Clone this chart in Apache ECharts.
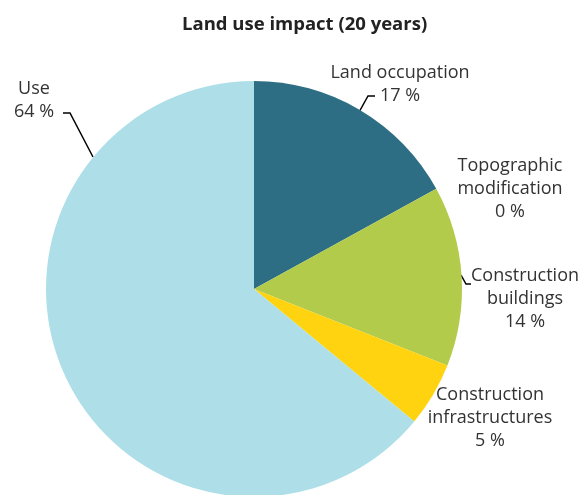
<!DOCTYPE html>
<html>
<head>
<meta charset="utf-8">
<script src="https://cdn.jsdelivr.net/npm/echarts@6/dist/echarts.min.js"></script>
<style>
  html, body { margin: 0; padding: 0; background: #fff; }
  #main { width: 583px; height: 495px; }
</style>
</head>
<body>
<div id="main"></div>
<script>
// data
const names = ['Land occupation', 'Topographic\nmodification', 'Construction\nbuildings', 'Construction\ninfrastructures', 'Use'];
const values = [17, 0, 14, 5, 64];
const colors = ['#2e6e84', '#8fa0a8', '#b3cb4a', '#ffd30f', '#aedfe8'];

// where each label sits (center) and its leader line
const labelPos = [[400, 84], [510, 189], [525, 299], [490, 418], [34, 100]];
const linePts = [
  [[358, 114], [368, 96], [375, 96]],
  null,
  [[461, 275], [466, 284], [471, 284]],
  null,
  [[93, 157], [70, 113], [63, 113]]
];

let chart = echarts.init(document.getElementById('main'));
chart.setOption({
  animation: false,
  title: {
    text: 'Land use impact (20 years)',
    left: 177,
    top: 10,
    textStyle: { fontFamily: 'Open Sans', fontSize: 18.5, fontWeight: 'bold', color: '#222' }
  },
  series: [{
    type: 'pie',
    center: [254, 289],
    radius: 208,
    startAngle: 90,
    clockwise: true,
    avoidLabelOverlap: false,
    itemStyle: { borderWidth: 0 },
    label: {
      show: true,
      fontFamily: 'Open Sans',
      fontSize: 18,
      lineHeight: 23,
      color: '#333',
      align: 'center',
      formatter: p => p.name + '\n' + p.value + ' %'
    },
    labelLine: { show: true, lineStyle: { color: '#000', width: 1.5 } },
    labelLayout: function (p) {
      const i = p.dataIndex;
      const r = { x: labelPos[i][0], y: labelPos[i][1], align: 'center', verticalAlign: 'middle' };
      if (linePts[i]) r.labelLinePoints = linePts[i];
      return r;
    },
    data: names.map((n, i) => ({
      name: n,
      value: values[i],
      itemStyle: { color: colors[i] },
      labelLine: { show: !!linePts[i] }
    }))
  }]
});
</script>
</body>
</html>
